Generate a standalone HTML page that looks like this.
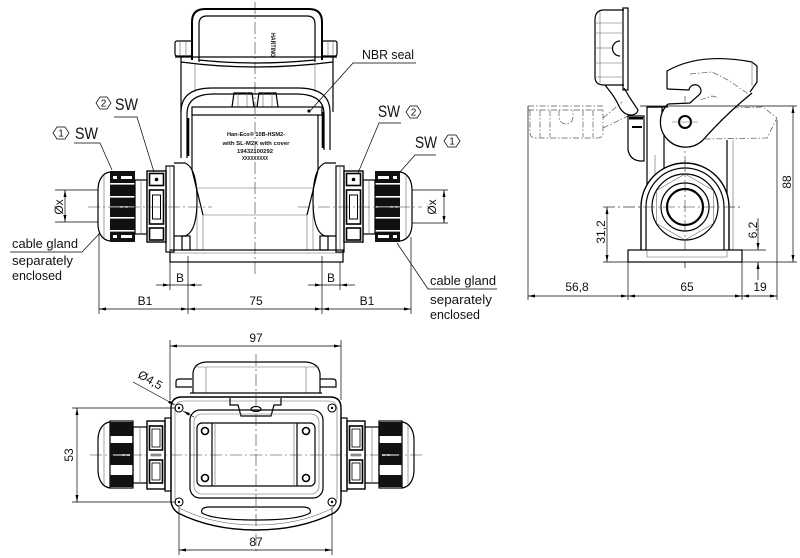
<!DOCTYPE html>
<html><head><meta charset="utf-8"><style>
html,body{margin:0;padding:0;background:#fff;}
svg{display:block;}
text{font-family:"Liberation Sans",sans-serif;fill:#111;}
.k{fill:none;stroke:#000;stroke-width:1.2}
.kk{fill:none;stroke:#000;stroke-width:2}
.t{fill:none;stroke:#666;stroke-width:.6}
.c{fill:none;stroke:#333;stroke-width:.6;stroke-dasharray:12 3 2 3}
.dd{fill:none;stroke:#555;stroke-width:.7;stroke-dasharray:6 2 1.5 2}
.d{fill:none;stroke:#000;stroke-width:.7}
.da{fill:none;stroke:#000;stroke-width:.7;marker-start:url(#ar);marker-end:url(#ar)}
.de{fill:none;stroke:#000;stroke-width:.7;marker-end:url(#ar)}
</style></head><body>
<svg width="800" height="558" viewBox="0 0 800 558" xmlns="http://www.w3.org/2000/svg">
<defs>
<marker id="ar" viewBox="0 0 10 10" refX="10" refY="5" markerWidth="7" markerHeight="3" preserveAspectRatio="none" orient="auto-start-reverse" markerUnits="userSpaceOnUse"><path d="M0,0L10,5L0,10z" fill="#000"/></marker>
<g id="fg">
<path class="k" d="M110,172 C102,173 98,181 98,190 L98,224 C98,233 102,240 110,241"/>
<path class="t" d="M104,175 L104,238"/>
<rect x="110" y="171" width="25" height="71" fill="#111"/>
<g fill="#fff">
<rect x="110" y="183" width="25" height="1.6"/>
<rect x="110" y="196" width="25" height="1.6"/>
<rect x="110" y="206.3" width="25" height="1.2"/>
<rect x="110" y="217" width="25" height="1.6"/>
<rect x="110" y="230" width="25" height="1.6"/>
<rect x="113" y="176" width="4" height="3"/>
<rect x="121" y="176" width="11" height="3"/>
<rect x="113" y="235" width="4" height="3"/>
<rect x="121" y="235" width="11" height="3"/>
</g>
<rect class="k" x="135" y="180" width="12" height="54"/>
<line class="t" x1="141" y1="180" x2="141" y2="234"/>
<rect x="147" y="171" width="19" height="71" fill="#fff" stroke="#000" stroke-width="1.4"/>
<rect x="149.5" y="173.5" width="14" height="12" fill="none" stroke="#000" stroke-width="1.6"/>
<circle cx="156.5" cy="179.5" r="1.8" fill="#000"/>
<rect x="149.5" y="190" width="14" height="34" fill="none" stroke="#000" stroke-width="1.6"/>
<rect x="152.5" y="195" width="8" height="24" fill="none" stroke="#000" stroke-width="1"/>
<rect x="149.5" y="228" width="14" height="12" fill="none" stroke="#000" stroke-width="1.6"/>
<rect class="k" x="166" y="166" width="8" height="86"/>
<line class="t" x1="170" y1="166" x2="170" y2="252"/>
<path fill="none" stroke="#000" stroke-width="1.2" d="M174,163 L185,163 Q197,168 197,200 Q197,232 185,236 L174,236"/>
<rect class="k" x="182" y="236" width="8" height="14"/>
</g>
<g id="bg">
<path class="k" d="M110,422 C102,423 98,431 98,440 L98,470 C98,479 102,487 110,488"/>
<path class="t" d="M104,425 L104,485"/>
<rect class="k" x="110" y="421" width="23" height="67"/>
<g fill="#111">
<rect x="110" y="422" width="23" height="14"/>
<rect x="110" y="443" width="23" height="22"/>
<rect x="110" y="475" width="23" height="12"/>
</g>
<rect x="113" y="454.3" width="17" height="1.4" fill="#fff"/>
<rect class="k" x="133" y="427" width="14" height="56"/>
<line class="t" x1="140" y1="427" x2="140" y2="483"/>
<rect x="147" y="421" width="18" height="68" fill="#fff" stroke="#000" stroke-width="1.4"/>
<rect x="149.5" y="426" width="13" height="24" fill="none" stroke="#000" stroke-width="1.6"/>
<rect x="152" y="429" width="8" height="18" fill="none" stroke="#000" stroke-width=".8"/>
<rect x="149.5" y="460" width="13" height="23" fill="none" stroke="#000" stroke-width="1.6"/>
<rect x="152" y="463" width="8" height="17" fill="none" stroke="#000" stroke-width=".8"/>
<rect x="151" y="453.5" width="10" height="3" fill="#aaa"/>
<rect class="k" x="165" y="418" width="6" height="73"/>
</g>
</defs>

<!-- ================= FRONT VIEW ================= -->
<line class="c" x1="255" y1="2" x2="255" y2="275"/>

<!-- handle -->
<path class="kk" d="M192,60 L192,22 Q192,9 205,9 L309,9 Q322,9 322,22 L322,60"/>
<path class="k" d="M199,62 L199,24 Q199,16 207,16 L307,16 Q315,16 315,24 L315,62"/>
<path class="k" d="M199,60 Q255,66 315,60"/>
<rect class="k" x="175" y="41" width="17" height="15" rx="2"/>
<rect class="k" x="322" y="41" width="15" height="15" rx="2"/>
<line class="t" x1="180" y1="41" x2="180" y2="56"/><line class="t" x1="186" y1="41" x2="186" y2="56"/>
<line class="t" x1="328" y1="41" x2="328" y2="56"/><line class="t" x1="333" y1="41" x2="333" y2="56"/>
<text transform="translate(271,45) rotate(90)" font-size="6" font-weight="bold" text-anchor="middle" textLength="24" lengthAdjust="spacingAndGlyphs">HARTING</text>
<!-- hood -->
<line class="k" x1="175" y1="57" x2="337" y2="57"/>
<path class="k" d="M181,62 Q255,72 333,62"/>
<line class="k" x1="181" y1="57" x2="181" y2="112"/>
<line class="k" x1="333" y1="57" x2="333" y2="112"/>
<line class="t" x1="195" y1="64" x2="195" y2="92"/>
<line class="t" x1="315" y1="64" x2="315" y2="92"/>
<!-- lever U -->
<path class="k" d="M181,158 L181,112 Q181,88 212,88 L298,88 Q330,88 330,112 L330,150"/>
<path class="k" d="M187,158 L187,114 Q187,94 214,94 L296,94 Q324,94 324,114 L324,150"/>
<line stroke="#000" stroke-width="2.6" x1="188" y1="118" x2="188" y2="156"/>
<line stroke="#000" stroke-width="2.6" x1="323" y1="112" x2="323" y2="148"/>
<!-- latches -->
<path class="k" d="M232,107 L234,93 L252,93 L254,107"/>
<path class="k" d="M257,107 L259,93 L276,93 L278,107"/>
<line class="t" x1="238" y1="93" x2="238" y2="107"/><line class="t" x1="247" y1="93" x2="247" y2="107"/>
<line class="t" x1="263" y1="93" x2="263" y2="107"/><line class="t" x1="272" y1="93" x2="272" y2="107"/>
<!-- seal strip -->
<rect class="k" x="192" y="107" width="130" height="8"/>
<circle cx="309" cy="111" r="1.6" fill="#000"/>
<!-- body -->
<line class="t" x1="197" y1="188" x2="313" y2="188"/>
<line class="t" x1="203" y1="215" x2="307" y2="215"/>
<line class="t" x1="197" y1="188" x2="197" y2="250"/><line class="t" x1="313" y1="188" x2="313" y2="250"/>
<line class="t" x1="203" y1="215" x2="203" y2="250"/><line class="t" x1="307" y1="215" x2="307" y2="250"/>
<text x="256" y="136" font-size="5.5" font-weight="bold" text-anchor="middle" textLength="58" lengthAdjust="spacingAndGlyphs">Han-Eco® 10B-HSM2-</text>
<text x="256" y="145" font-size="5.5" font-weight="bold" text-anchor="middle" textLength="67" lengthAdjust="spacingAndGlyphs">with SL-M2X with cover</text>
<text x="255" y="153" font-size="5.5" font-weight="bold" text-anchor="middle" textLength="36" lengthAdjust="spacingAndGlyphs">19432100292</text>
<text x="255" y="160" font-size="5.5" font-weight="bold" text-anchor="middle" textLength="26" lengthAdjust="spacingAndGlyphs">XXXXXXXXX</text>
<!-- base -->
<rect class="k" x="170" y="250" width="173" height="12"/>
<line class="t" x1="170" y1="253" x2="343" y2="253"/>
<!-- glands -->
<use href="#fg"/>
<use href="#fg" transform="translate(510,0) scale(-1,1)"/>
<path class="k" d="M192,115 L192,170 L203,215"/>
<path class="k" d="M318,115 L318,170 L307,215"/>
<line class="c" x1="88" y1="207" x2="212" y2="207"/>
<line class="c" x1="298" y1="207" x2="422" y2="207"/>

<!-- labels front -->
<polygon class="d" points="53,133 57,127 65,127 69,133 65,139 57,139"/>
<text x="61" y="136.5" font-size="10" text-anchor="middle">1</text>
<text x="75" y="139" font-size="17" textLength="23" lengthAdjust="spacingAndGlyphs">SW</text>
<polyline class="d" points="74,143 100,143 112,170"/>
<polygon class="d" points="96,103 100,97 107,97 111,103 107,109 100,109"/>
<text x="103.5" y="106.5" font-size="10" text-anchor="middle">2</text>
<text x="115" y="110" font-size="17" textLength="23" lengthAdjust="spacingAndGlyphs">SW</text>
<polyline class="d" points="114,117 137,117 154,172"/>
<text x="378" y="117" font-size="17" textLength="22" lengthAdjust="spacingAndGlyphs">SW</text>
<polygon class="d" points="406,112 410,106 417,106 421,112 417,118 410,118"/>
<text x="413.5" y="115.5" font-size="10" text-anchor="middle">2</text>
<polyline class="d" points="401,123 379,123 358,173"/>
<text x="415" y="148" font-size="17" textLength="22" lengthAdjust="spacingAndGlyphs">SW</text>
<polygon class="d" points="444,141 448,135 456,135 460,141 456,147 448,147"/>
<text x="452" y="144.5" font-size="10" text-anchor="middle">1</text>
<polyline class="d" points="436,155 415,155 400,172"/>
<text x="362" y="59" font-size="12.5" textLength="52" lengthAdjust="spacingAndGlyphs">NBR seal</text>
<polyline class="d" points="416,63 353,63 310,111"/>
<text x="12" y="248" font-size="12.5" textLength="66" lengthAdjust="spacingAndGlyphs">cable gland</text>
<polyline class="d" points="10,252 82,252 100,233"/>
<text x="12" y="265" font-size="12.5" textLength="61" lengthAdjust="spacingAndGlyphs">separately</text>
<text x="12" y="280" font-size="12.5" textLength="50" lengthAdjust="spacingAndGlyphs">enclosed</text>
<text x="430" y="285" font-size="12.5" textLength="66" lengthAdjust="spacingAndGlyphs">cable gland</text>
<polyline class="d" points="497,289 428,289 397,243"/>
<text x="430" y="304" font-size="12.5" textLength="62" lengthAdjust="spacingAndGlyphs">separately</text>
<text x="430" y="319" font-size="12.5" textLength="50" lengthAdjust="spacingAndGlyphs">enclosed</text>

<!-- front dims -->
<line class="d" x1="55" y1="190" x2="98" y2="190"/>
<line class="d" x1="55" y1="222" x2="98" y2="222"/>
<line class="da" x1="65" y1="190" x2="65" y2="222"/>
<text transform="translate(63,207) rotate(-90)" font-size="12" text-anchor="middle">Øx</text>
<line class="d" x1="412" y1="190" x2="448" y2="190"/>
<line class="d" x1="412" y1="223" x2="448" y2="223"/>
<line class="da" x1="444" y1="190" x2="444" y2="223"/>
<text transform="translate(436,207) rotate(-90)" font-size="12" text-anchor="middle">Øx</text>
<line class="d" x1="99" y1="233" x2="99" y2="314"/>
<line class="d" x1="411" y1="237" x2="411" y2="314"/>
<line class="d" x1="188" y1="256" x2="188" y2="314"/>
<line class="d" x1="322" y1="256" x2="322" y2="314"/>
<line class="d" x1="170" y1="262" x2="170" y2="290"/>
<line class="d" x1="340" y1="262" x2="340" y2="290"/>
<line class="de" x1="156" y1="285" x2="170" y2="285"/>
<line class="d" x1="170" y1="285" x2="188" y2="285"/>
<line class="de" x1="202" y1="285" x2="188" y2="285"/>
<line class="de" x1="308" y1="285" x2="322" y2="285"/>
<line class="d" x1="322" y1="285" x2="340" y2="285"/>
<line class="de" x1="355" y1="285" x2="340" y2="285"/>
<text x="180" y="282" font-size="12" text-anchor="middle">B</text>
<text x="331" y="282" font-size="12" text-anchor="middle">B</text>
<line class="da" x1="99" y1="309" x2="188" y2="309"/>
<line class="da" x1="188" y1="309" x2="322" y2="309"/>
<line class="da" x1="322" y1="309" x2="411" y2="309"/>
<text x="145" y="305" font-size="12" text-anchor="middle">B1</text>
<text x="256" y="305" font-size="12" text-anchor="middle">75</text>
<text x="367" y="305" font-size="12" text-anchor="middle">B1</text>

<!-- ================= SIDE VIEW ================= -->
<line class="c" x1="685" y1="96" x2="685" y2="268"/>
<line class="c" x1="603" y1="207" x2="740" y2="207"/>
<!-- cover flipped -->
<path class="k" d="M624,10 L604,10 Q595,10 595,20 L595,77 Q595,85 604,85 L624,85"/>
<rect class="k" x="623" y="8" width="5" height="82"/>
<g class="t"><line x1="596" y1="23" x2="623" y2="23"/><line x1="596" y1="33" x2="623" y2="33"/><line x1="596" y1="48" x2="612" y2="48"/><line x1="596" y1="63" x2="623" y2="63"/><line x1="596" y1="77" x2="623" y2="77"/><line x1="600" y1="12" x2="600" y2="83"/></g>
<path class="k" d="M620,41 A7.5,7.5 0 0 0 620,56"/>
<!-- open hood dashed -->
<path class="dd" d="M528,106 L603,106 M528,110 L603,110"/>
<path class="dd" d="M530,110 L530,133 Q530,138 536,138 L597,138 Q603,138 603,133 L603,110"/>
<path class="dd" d="M540,110 L540,137 M550,110 L550,137 M583,110 L583,137 M593,110 L593,137"/>
<path class="dd" d="M559,110 L559,117 A7,7 0 0 0 573,117 L573,110"/>
<path class="dd" d="M603,118 L622,102 M603,128 L628,116"/>
<!-- hinge -->
<path class="k" d="M605,85 L612,94 Q616,100 618,104 Q622,114 630,115 Q637,115 638,110 L630,98 L624,88"/>
<path class="k" d="M628,116 L628,150 Q630,160 640,161 L644,161 L644,116 Z"/>
<rect x="629" y="117" width="14" height="2.5" fill="#000"/>
<rect x="632" y="126" width="10" height="2" fill="#000"/>
<!-- body -->
<path class="k" d="M647,250 L647,107 L662,107 L662,116"/>
<line class="t" x1="655" y1="155" x2="655" y2="250"/>
<line class="k" x1="664" y1="135" x2="664" y2="250"/>
<line class="k" x1="727" y1="140" x2="727" y2="250"/>
<line class="t" x1="733" y1="140" x2="733" y2="250"/>
<!-- gland arch -->
<path fill="#fff" stroke="#000" stroke-width="1.4" d="M641,250 L641,207 A44,44 0 0 1 729,207 L729,250"/>
<path class="k" d="M646,250 L646,207 A39,39 0 0 1 724,207 L724,250"/>
<polygon class="t" points="685,174 713.6,190.5 713.6,223.5 685,240 656.4,223.5 656.4,190.5"/>
<circle class="k" cx="685" cy="207" r="33"/>
<circle class="k" cx="685" cy="207" r="24"/>
<circle fill="none" stroke="#000" stroke-width="2.2" cx="685" cy="207" r="18"/>
<line class="c" x1="603" y1="207" x2="740" y2="207"/>
<line class="c" x1="685" y1="160" x2="685" y2="268"/>
<!-- base -->
<rect fill="#fff" stroke="#000" stroke-width="1.2" x="628" y="250" width="114" height="12"/>
<path class="t" d="M647,250 L647,257 L727,257 L727,250"/>
<!-- lever -->
<path class="dd" d="M690,74 L712,72 L728,80 L750,95 M733,108 L763,107 L777,118 L767,138 L705,139"/>
<path class="dd" d="M700,100 L712,96 L728,100 M705,120 L720,112"/>
<path fill="#fff" stroke="#000" stroke-width="1.3" d="M668,104 A25,25 0 1 0 703,140 Q725,115 752,93"/>
<path class="k" d="M667,89 L667,71 Q700,52 752,62 L757,66 L757,82 L750,92"/>
<path class="k" d="M667,89 L689,90 A6,6 0 1 1 700,94 L690,103 L668,104"/>
<line class="t" x1="752" y1="62" x2="752" y2="86"/>
<line class="k" x1="647" y1="107" x2="668" y2="107"/>
<circle fill="#fff" stroke="#000" stroke-width="2" cx="685" cy="122" r="6"/>
<line class="t" x1="672" y1="122" x2="698" y2="122"/>
<!-- side dims -->
<line class="d" x1="640" y1="106" x2="797" y2="106"/>
<line class="d" x1="742" y1="262" x2="797" y2="262"/>
<line class="da" x1="793" y1="106" x2="793" y2="262"/>
<text transform="translate(791,182) rotate(-90)" font-size="12" text-anchor="middle">88</text>
<line class="d" x1="603" y1="262" x2="628" y2="262"/>
<line class="da" x1="607" y1="207" x2="607" y2="262"/>
<text transform="translate(605,232) rotate(-90)" font-size="12" text-anchor="middle">31,2</text>
<line class="d" x1="742" y1="250" x2="766" y2="250"/>
<line class="de" x1="758" y1="218" x2="758" y2="250"/>
<line class="de" x1="758" y1="280" x2="758" y2="262"/>
<text transform="translate(757,230) rotate(-90)" font-size="12" text-anchor="middle">6,2</text>
<line class="d" x1="528" y1="106" x2="528" y2="300"/>
<line class="d" x1="628" y1="262" x2="628" y2="300"/>
<line class="d" x1="742" y1="262" x2="742" y2="300"/>
<line class="d" x1="777" y1="120" x2="777" y2="300"/>
<line class="da" x1="528" y1="296" x2="628" y2="296"/>
<line class="da" x1="628" y1="296" x2="742" y2="296"/>
<line class="da" x1="742" y1="296" x2="777" y2="296"/>
<text x="577" y="291" font-size="12" text-anchor="middle">56,8</text>
<text x="687" y="291" font-size="12" text-anchor="middle">65</text>
<text x="760" y="291" font-size="12" text-anchor="middle">19</text>

<!-- ================= BOTTOM VIEW ================= -->
<!-- top cover -->
<path class="k" d="M193,393 L193,373 Q194,363 206,362 L306,362 Q318,363 320,373 L320,393"/>
<line class="t" x1="194" y1="367" x2="319" y2="367"/>
<line class="t" x1="206" y1="367" x2="206" y2="393"/><line class="t" x1="306" y1="367" x2="306" y2="393"/>
<path class="k" d="M192,379 L179,379 Q176,379 176,382 L176,387 L192,387"/>
<path class="k" d="M320,379 L333,379 Q336,379 336,382 L336,387 L320,387"/>
<line class="k" x1="190" y1="393" x2="322" y2="393"/>
<!-- housing -->
<path fill="#fff" stroke="#000" stroke-width="1.4" d="M182,397 L330,397 Q341,397 341,408 L341,500 Q341,508 334,513 Q300,530 256,530 Q212,530 178,513 Q171,508 171,500 L171,408 Q171,397 182,397 Z"/>
<path class="t" d="M184,401 L328,401 Q337,401 337,410 L337,498 Q337,505 331,509 Q298,525 256,525 Q214,525 181,509 Q175,505 175,498 L175,410 Q175,401 184,401 Z"/>
<!-- latch -->
<path class="k" d="M230,398 L230,405 L238,405 L241,416 L271,416 L274,405 L281,405 L281,398"/>
<ellipse class="k" cx="256" cy="409" rx="5" ry="2.5"/>
<!-- frame -->
<rect class="k" x="190" y="410" width="133" height="88" rx="10" stroke-width="1.5"/>
<rect class="t" x="194" y="414" width="125" height="80" rx="8"/>
<rect class="k" x="197" y="423" width="118" height="63" rx="5"/>
<line class="k" x1="212" y1="423" x2="212" y2="486"/><line class="t" x1="215" y1="423" x2="215" y2="486"/>
<line class="k" x1="297" y1="423" x2="297" y2="486"/><line class="t" x1="294" y1="423" x2="294" y2="486"/>
<g fill="#fff" stroke="#000" stroke-width="1.6">
<circle cx="205" cy="431" r="3.5"/><circle cx="306" cy="431" r="3.5"/>
<circle cx="205" cy="478" r="3.5"/><circle cx="306" cy="478" r="3.5"/>
</g>
<path class="k" d="M208,507 L304,507 Q312,508 310,513 Q298,520 256,520 Q214,520 202,513 Q200,508 208,507 Z"/>
<!-- mounting holes -->
<g fill="#fff" stroke="#000" stroke-width="1.1">
<circle cx="179" cy="408" r="4"/><circle cx="332" cy="408" r="4"/>
<circle cx="179" cy="502" r="4"/><circle cx="332" cy="502" r="4"/>
</g>
<g fill="#000"><circle cx="179" cy="408" r="1.2"/><circle cx="332" cy="408" r="1.2"/><circle cx="179" cy="502" r="1.2"/><circle cx="332" cy="502" r="1.2"/></g>
<!-- glands -->
<use href="#bg"/>
<use href="#bg" transform="translate(512,0) scale(-1,1)"/>
<!-- centerlines -->
<line class="c" x1="256" y1="354" x2="256" y2="553"/>
<line class="c" x1="90" y1="455" x2="422" y2="455"/>
<!-- dims -->
<line class="d" x1="170" y1="340" x2="170" y2="400"/>
<line class="d" x1="341" y1="340" x2="341" y2="400"/>
<line class="da" x1="170" y1="346" x2="341" y2="346"/>
<text x="256" y="342" font-size="12" text-anchor="middle">97</text>
<line class="d" x1="179" y1="508" x2="179" y2="555"/>
<line class="d" x1="332" y1="508" x2="332" y2="555"/>
<line class="da" x1="179" y1="550" x2="332" y2="550"/>
<text x="256" y="546" font-size="12" text-anchor="middle">87</text>
<line class="d" x1="72" y1="408" x2="176" y2="408"/>
<line class="d" x1="72" y1="502" x2="176" y2="502"/>
<line class="da" x1="77" y1="408" x2="77" y2="502"/>
<text transform="translate(73,455) rotate(-90)" font-size="12" text-anchor="middle">53</text>
<line class="de" x1="133" y1="382" x2="175" y2="405"/>
<line class="de" x1="194" y1="417" x2="183" y2="411"/>
<text transform="translate(137,377) rotate(30)" font-size="12">Ø4,5</text>
</svg>
</body></html>
